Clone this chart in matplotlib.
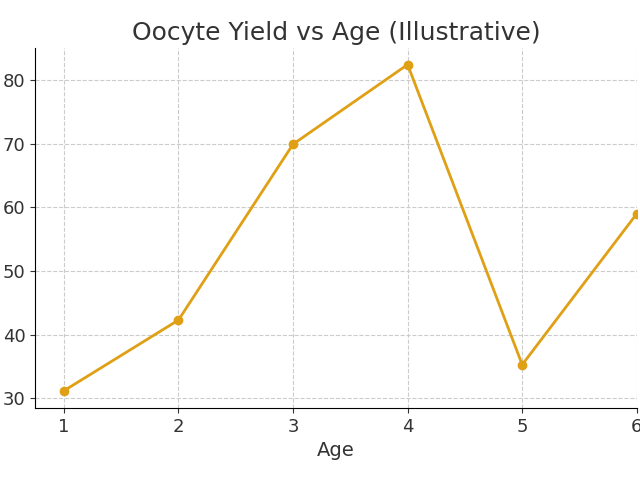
import matplotlib
matplotlib.use("Agg")
import matplotlib.pyplot as plt

ages = [1, 2, 3, 4, 5, 6]
oocytes = [31.2, 42.3, 69.9, 82.4, 35.3, 59.0]

fig, ax = plt.subplots(figsize=(6.4, 4.8), dpi=100)
ax.plot(ages, oocytes, color="#e0a015", marker="o", linewidth=2, markersize=6)
ax.set_title("Oocyte Yield vs Age (Illustrative)", fontsize=18, color="#333333")
ax.set_xlabel("Age", fontsize=14, color="#333333")
ax.set_xlim(0.75, 6.0)
ax.set_ylim(28.5, 85)
ax.set_yticks([30, 40, 50, 60, 70, 80])
ax.tick_params(labelsize=13, colors="#333333")
ax.grid(True, linestyle="--", color="#cccccc", linewidth=0.8)
ax.spines["top"].set_visible(False)
ax.spines["right"].set_visible(False)
fig.subplots_adjust(left=0.055, right=0.995, top=0.9, bottom=0.15)
fig.savefig("out.png", dpi=100)
